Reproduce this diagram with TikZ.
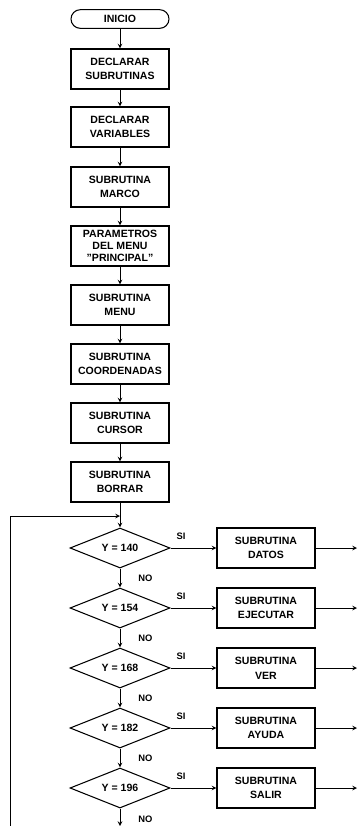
\documentclass[tikz,border=0pt]{standalone}
\usepackage{fontspec}
\setmainfont{Liberation Sans}
\usetikzlibrary{shapes.geometric}

\tikzset{
  proc/.style={draw, line width=0.9pt, minimum width=2.94cm, minimum height=1.2cm,
    align=center, inner sep=1pt, font=\bfseries\fontsize{9}{12.5}\selectfont},
  term/.style={proc, minimum height=0.56cm, rounded corners=0.28cm},
  decision/.style={draw, diamond, aspect=2.5, line width=0.9pt, minimum width=3cm,
    minimum height=1.2cm, inner sep=0pt, font=\bfseries\fontsize{9}{11}\selectfont},
  etiq/.style={font=\bfseries\fontsize{8}{10}\selectfont, inner sep=1pt},
  flecha/.style={->, line width=0.8pt}
}

\begin{document}
\begin{tikzpicture}[>=stealth, x=0.03cm, y=-0.03cm]
  \useasboundingbox (0,0) rectangle (358,826);
  % Main column
  \node[term] (inicio)  at (120,19)  {INICIO};
  \node[proc] (declsub) at (120,69)  {DECLARAR\\SUBRUTINAS};
  \node[proc] (declvar) at (120,127) {DECLARAR\\VARIABLES};
  \node[proc] (marco)   at (120,187) {SUBRUTINA\\MARCO};
  \node[proc, font=\bfseries\fontsize{9}{10.5}\selectfont]
              (param)   at (120,246) {PARAMETROS\\DEL MENU\\\symbol{34}PRINCIPAL\symbol{34}};
  \node[proc] (menu)    at (120,305) {SUBRUTINA\\MENU};
  \node[proc] (coord)   at (120,364) {SUBRUTINA\\COORDENADAS};
  \node[proc] (cursor)  at (120,423) {SUBRUTINA\\CURSOR};
  \node[proc] (borrar)  at (120,482) {SUBRUTINA\\BORRAR};
  \foreach \a/\b in {inicio/declsub, declsub/declvar, declvar/marco, marco/param,
                     param/menu, menu/coord, coord/cursor, cursor/borrar}
    \draw[flecha] (\a) -- (\b);
  % Menu options
  \foreach \i/\y/\val/\nom in {1/548/140/DATOS, 2/608/154/EJECUTAR, 3/668/168/VER,
                               4/728/182/AYUDA, 5/788/196/SALIR} {
    \node[decision] (d\i) at (120,\y) {Y = \val};
    \node[proc] (s\i) at (266,\y) {SUBRUTINA\\\nom};
    \coordinate (e\i) at (357,\y);
    \draw[flecha] (d\i) -- node[etiq, pos=0.23, above=6pt] {SI} (s\i);
    \draw[flecha] (s\i) -- (e\i);
  }
  \foreach \a/\b in {d1/d2, d2/d3, d3/d4, d4/d5}
    \draw[flecha] (\a) -- node[etiq, right=0.5cm] {NO} (\b);
  % Return loop
  \coordinate (junta) at (120,516);
  \coordinate (esquina) at (10,516);
  \coordinate (retorno) at (10,826);
  \coordinate (fin) at (120,826);
  \draw[line width=0.8pt] (borrar) -- (junta);
  \draw[flecha] (junta) -- (d1);
  \draw[flecha] (retorno) -- (esquina) -- (junta);
  \draw[flecha] (d5) -- node[etiq, right=0.5cm, pos=0.6] {NO} (fin);
\end{tikzpicture}
\end{document}
